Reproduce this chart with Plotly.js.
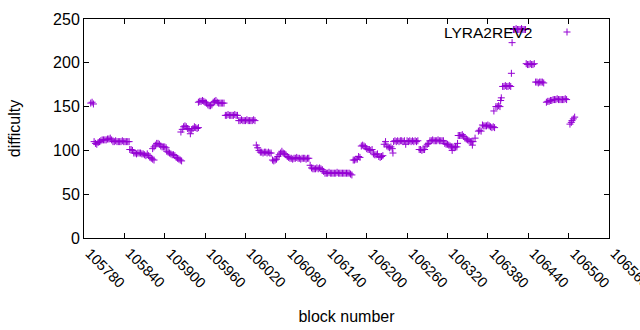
<!DOCTYPE html>
<html>
<head>
<meta charset="utf-8">
<script src="https://cdn.plot.ly/plotly-3.0.1.min.js"></script>
<style>html,body{margin:0;padding:0;background:#fff;}#chart{width:640px;height:330px;}</style>
</head>
<body>
<div id="chart"></div>
<script>
// block numbers
const blocks = [
105790,105792,105794,
105795,105797,105799,105801,105803,
105805,105807,105809,105811,105813,105815,105817,105819,105821,
105823,105825,105827,105829,105831,105833,105835,105837,105839,105841,105843,105845,105847,
105848,105850,105852,105854,105856,105858,105860,105862,105864,105866,105868,105870,105872,105874,105876,105878,105880,105882,105884,
105882,105884,105886,105888,105890,105892,105894,105896,105898,105900,105902,
105903,105905,105907,105909,105911,105913,105915,105917,105919,105921,105923,105925,
105924,105926,105928,105930,105932,105934,105936,105938,105940,105942,105944,105946,105948,105950,
105950,105952,105954,105956,105958,105960,105962,105964,105966,105968,105970,105972,105974,105976,105978,105980,105982,105984,105986,105988,
105990,105992,105994,105996,105998,106000,106002,106004,106006,106008,
106010,106012,106014,106016,106018,106020,106022,106024,106026,106028,106030,106032,106034,
106036,106038,106040,106042,106044,106046,106048,106050,106052,106054,106056,106058,
106060,106062,106064,106066,106068,106070,106072,106074,106076,106078,106080,106082,106084,
106086,106088,106090,106092,106094,106096,106098,106100,106102,106104,106106,106108,106110,106112,106114,
106116,106118,106120,106122,106124,106126,106128,106130,106132,106134,106136,
106138,106140,106142,106144,106146,106148,106150,106152,106154,106156,106158,106160,106162,106164,106166,106168,106170,106172,106174,106176,106178,
106180,106182,106184,106186,106188,106190,
106192,106194,106196,106198,106200,106202,106204,106206,106208,106210,106212,106214,106216,106218,106220,106222,106224,
106226,106228,106230,106232,106234,106236,106238,106239,
106240,106242,106244,106246,106248,106250,106252,106254,106256,106258,106260,106262,106264,106266,106268,106270,106272,106274,106276,
106278,106280,106282,106284,106286,106288,106290,106292,
106294,106296,106298,106300,106302,106304,106306,106308,106310,106312,106314,
106316,106318,106320,106322,106324,106326,106327,106328,106330,106332,106334,106335,
106336,106338,106340,106342,106344,106346,106348,106350,106352,106354,106356,106357,106358,106361,
106366,106368,106370,106372,106374,106376,106378,106380,106382,106384,106386,106388,106389,106390,
106392,106394,106396,106398,106399,106400,
106402,106404,106406,106408,106410,106412,106414,106415,106416,
106418,106420,106422,106424,106426,106428,106430,106432,106434,106436,
106437,106439,106441,106443,106445,106447,106449,
106451,106453,106455,106457,106459,106461,106463,
106467,106469,106471,106473,106475,106477,106479,106481,106483,106485,106487,106489,106491,106493,106495,106497,
106502,106504,106505,106507,106509
];
// difficulty values
const difficulty = [
154,155,153,
110,108,107,109,110,
111,112,112,112,112,113,113,114,112,
110,110,111,110,110,110,110,111,110,110,110,110,110,
101,101,100,97,97,96,97,97,97,96,96,95,94,96,94,92,91,90,89,
102,104,106,108,108,107,105,104,104,104,103,
99,98,97,96,95,95,94,92,91,90,89,88,
121,124,127,128,127,125,124,119,123,125,127,126,125,126,
155,156,156,157,156,155,154,152,151,151,152,155,156,157,155,154,154,154,154,154,
140,140,141,140,140,140,140,141,140,140,
134,134,135,134,134,134,135,134,134,134,134,135,134,
106,103,100,98,98,97,98,98,97,98,97,97,
89,88,89,90,93,95,97,99,97,96,95,93,92,
91,91,90,91,91,92,91,91,90,91,91,91,90,91,91,
83,80,79,79,79,80,79,80,79,78,76,
74,74,74,75,74,74,74,74,74,75,74,74,74,74,74,74,74,74,74,73,72,
89,89,90,90,93,92,
105,106,105,104,102,101,101,100,101,96,95,95,96,93,92,93,94,
107,110,105,104,103,104,102,97,
110,111,110,111,110,111,111,110,111,107,111,110,111,110,111,110,111,110,111,
101,101,100,101,101,105,107,108,
111,111,112,111,111,111,112,111,111,111,111,
108,107,107,106,105,104,100,104,103,104,104,108,
117,117,117,118,116,114,113,112,111,110,110,106,110,114,
122,123,122,129,128,128,128,129,128,127,126,127,145,126,
150,150,151,150,157,160,
173,173,174,173,173,174,173,188,223,
238,238,239,238,238,238,239,238,238,238,
199,198,198,199,198,198,199,
178,178,177,178,178,178,177,
155,156,156,157,157,158,158,158,159,158,158,158,158,158,159,158,
130,132,134,136,138
];
// x tick labels (block numbers)
const xTicks = [105780,105840,105900,105960,106020,106080,106140,106200,106260,106320,106380,106440,106500,106560];
const yTicks = [0,50,100,150,200,250];
const seriesName = 'LYRA2REV2';
const purple = '#9400D3';

const L = 84, R = 609, T = 19, B = 238;
const W = 640, H = 330;
const keyX = (567 - L) / (R - L), keyY = (B - 32) / (B - T);
const hx = 3.5 / (R - L), hy = 3.5 / (B - T);
const FAM = 'Liberation Sans, Arial, sans-serif';

const trace = {
  x: blocks, y: difficulty, type: 'scatter', mode: 'markers', name: seriesName,
  marker: {symbol: 'cross-thin', size: 5, color: purple, line: {color: purple, width: 1}},
  showlegend: false, hoverinfo: 'skip'
};

// rotated x tick labels, anchored at each tick through the x axis scale
const tickAnns = xTicks.map(v => ({
  xref: 'x', yref: 'paper', x: v, y: 0, xanchor: 'left', yanchor: 'top',
  xshift: -4.5, yshift: -4.5, textangle: 45, text: String(v), showarrow: false,
  font: {family: FAM, size: 14.5, color: '#000'}
}));

const layout = {
  width: W, height: H,
  margin: {l: L, r: W - R, t: T, b: H - B},
  paper_bgcolor: '#fff', plot_bgcolor: '#fff',
  font: {family: FAM, size: 16, color: '#000'},
  showlegend: false,
  xaxis: {
    range: [105780, 106560], tickmode: 'array', tickvals: xTicks, showticklabels: false,
    ticks: 'inside', ticklen: 5, tickcolor: '#000', tickwidth: 1,
    showline: true, linecolor: '#000', linewidth: 1, mirror: 'allticks',
    showgrid: false, zeroline: false,
    title: {text: 'block number', font: {size: 16}, standoff: 72}
  },
  yaxis: {
    range: [0, 250], tickmode: 'array', tickvals: yTicks,
    ticks: 'inside', ticklen: 5, tickcolor: '#000', tickwidth: 1,
    showline: true, linecolor: '#000', linewidth: 1, mirror: 'allticks',
    showgrid: false, zeroline: false, tickfont: {size: 16},
    title: {text: 'difficulty', font: {size: 16}, standoff: 28}
  },
  annotations: tickAnns.concat([{
    xref: 'paper', yref: 'paper', x: (534 - L) / (R - L), y: keyY,
    xanchor: 'right', yanchor: 'middle', text: seriesName, showarrow: false,
    font: {size: 15.5, color: '#000'}
  }]),
  shapes: [
    {type: 'line', xref: 'paper', yref: 'paper', x0: keyX - hx, x1: keyX + hx, y0: keyY, y1: keyY, line: {color: purple, width: 1}},
    {type: 'line', xref: 'paper', yref: 'paper', x0: keyX, x1: keyX, y0: keyY - hy, y1: keyY + hy, line: {color: purple, width: 1}}
  ]
};
Plotly.newPlot('chart', [trace], layout, {staticPlot: true, displayModeBar: false});
</script>
</body>
</html>
